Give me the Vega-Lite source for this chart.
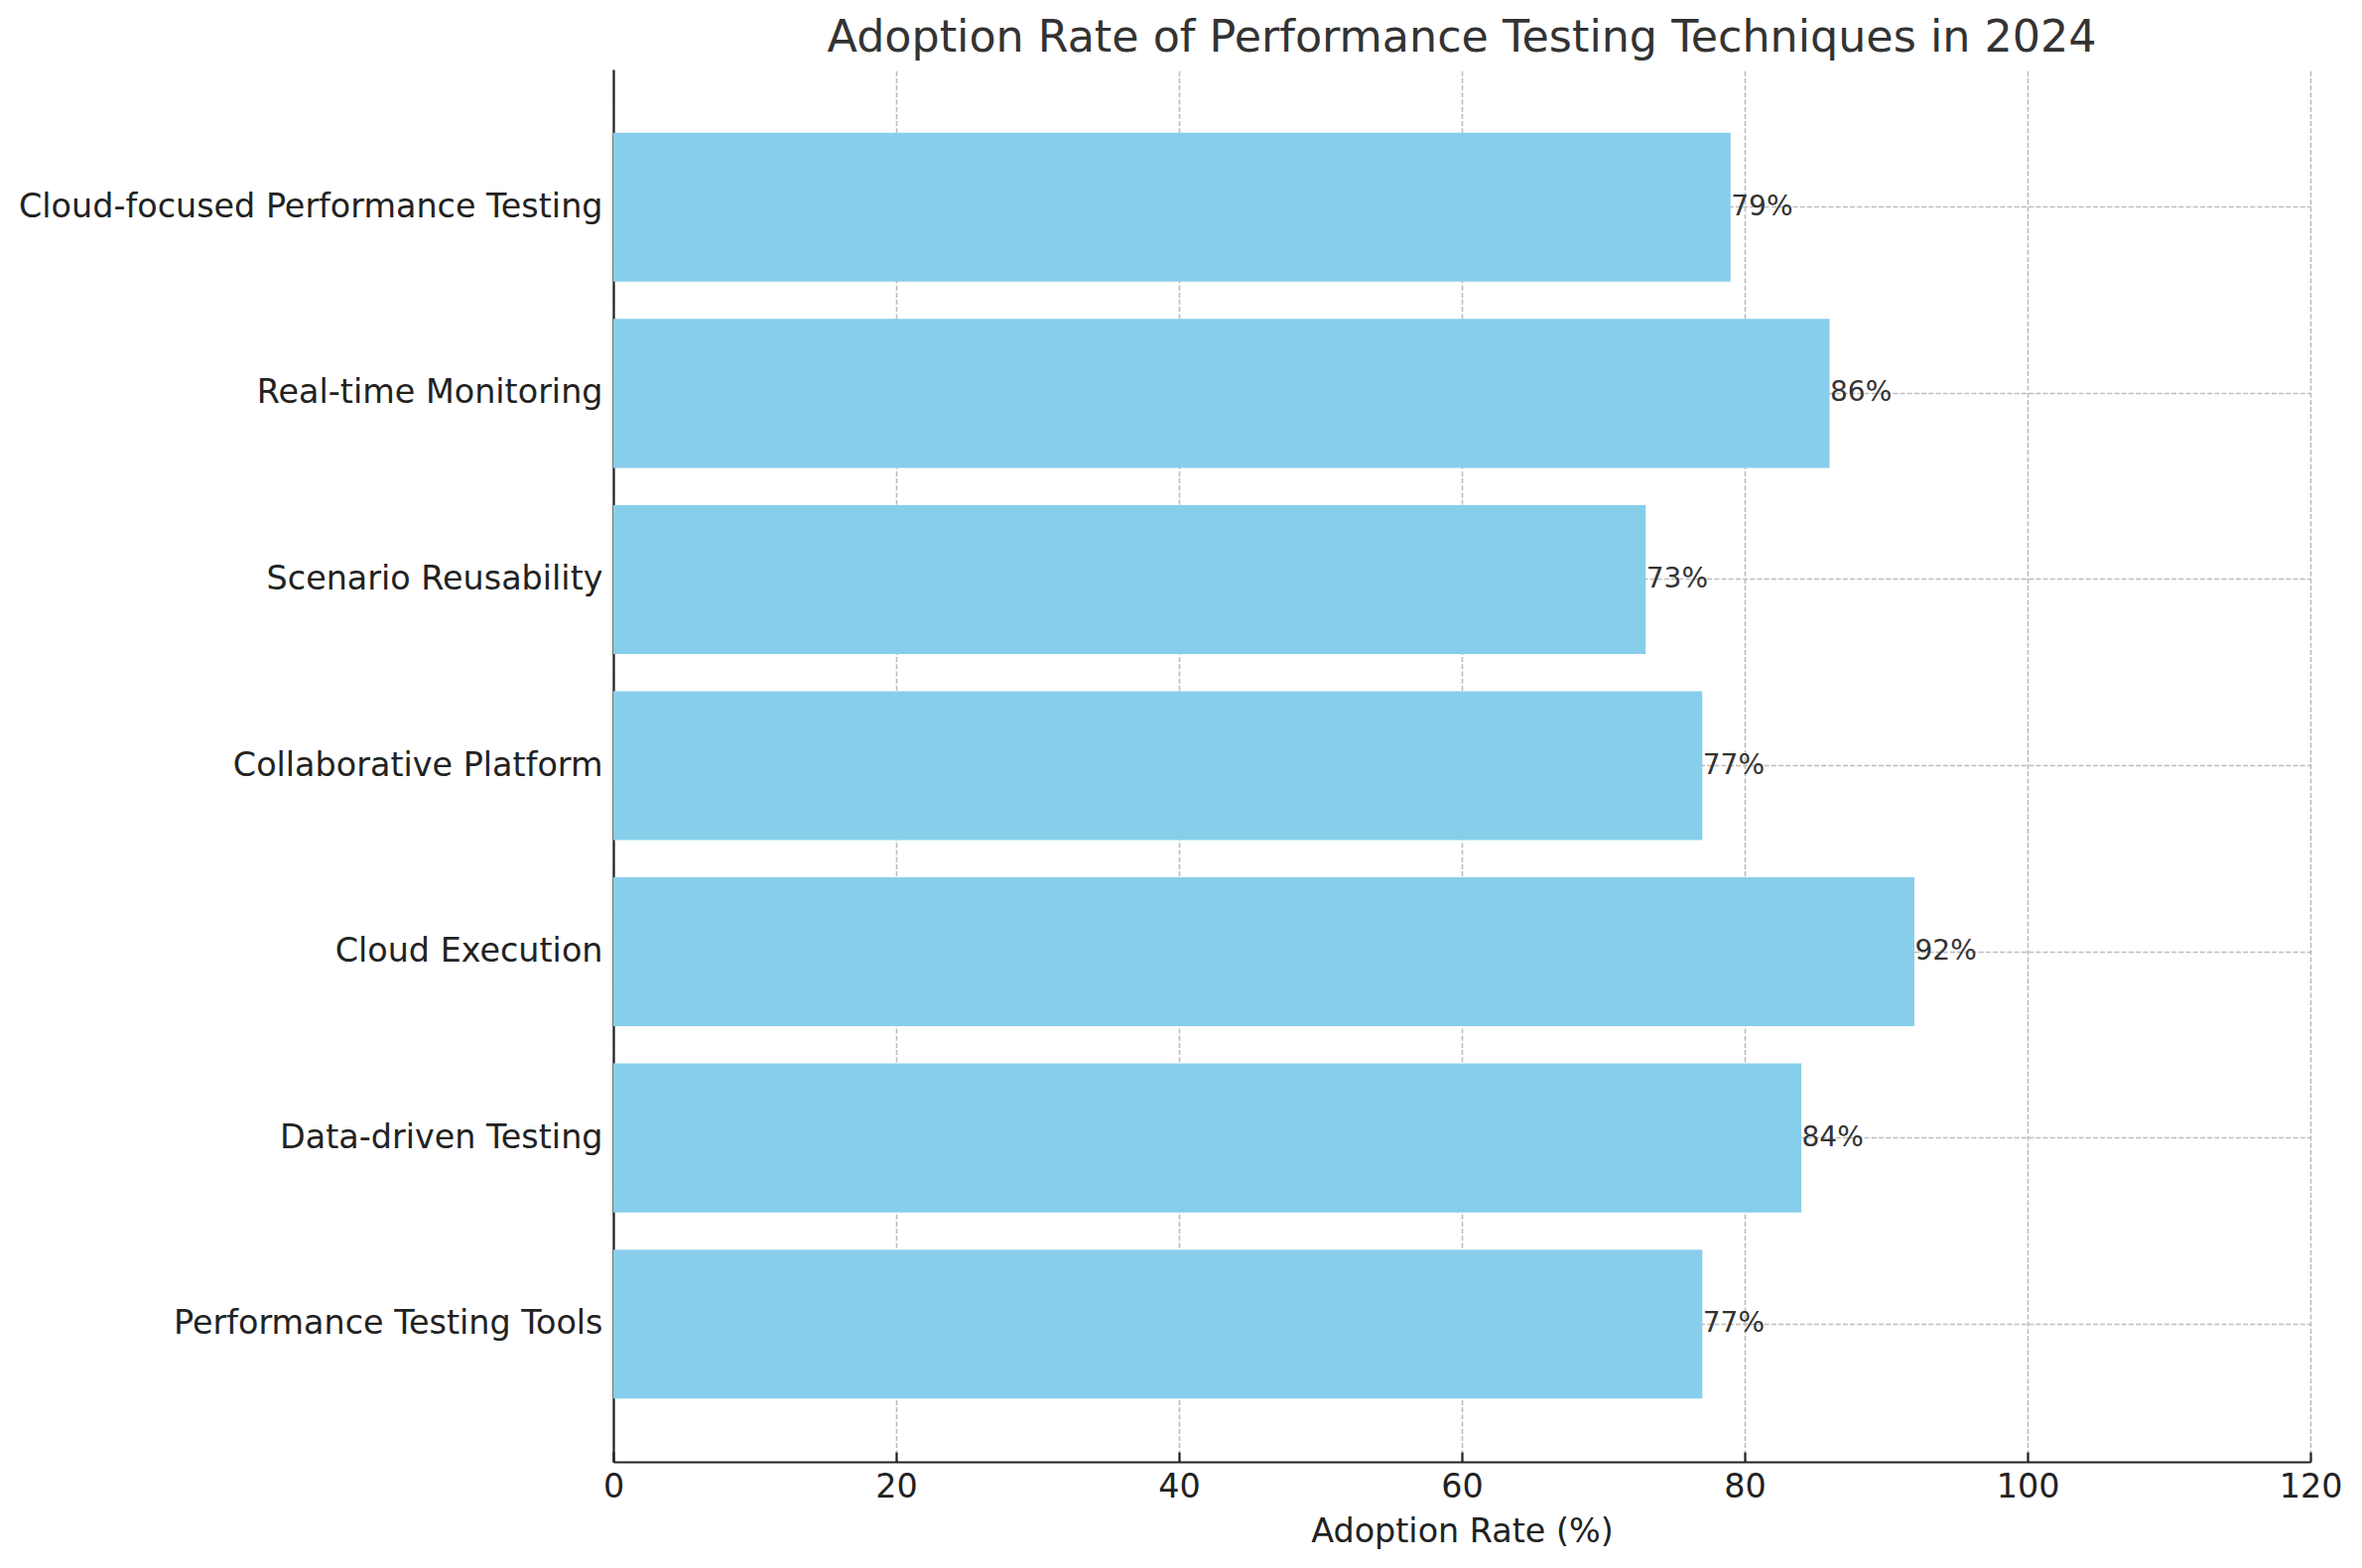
{
  "$schema": "https://vega.github.io/schema/vega-lite/v6.json",
  "width": 1710,
  "height": 1403,
  "autosize": {"type": "none"},
  "padding": {"left": 618, "top": 70, "right": 52, "bottom": 107},
  "background": "white",
  "view": {"stroke": null},
  "config": {
    "font": "DejaVu Sans",
    "axis": {
      "domainColor": "#222222",
      "domainWidth": 2.2,
      "tickColor": "#222222",
      "tickWidth": 2.2,
      "tickSize": -10,
      "labelColor": "#222222",
      "labelFont": "DejaVu Sans",
      "labelFontSize": 33.4,
      "gridColor": "#bdbdbd",
      "gridWidth": 1.6,
      "gridDash": [5, 2.2]
    }
  },
  "title": {
    "text": "Adoption Rate of Performance Testing Techniques in 2024",
    "font": "DejaVu Sans",
    "fontSize": 44.4,
    "fontWeight": "normal",
    "color": "#333333",
    "anchor": "middle",
    "frame": "group",
    "baseline": "bottom",
    "offset": 7,
    "dy": 42
  },
  "data": {
    "values": [
      {"technique": "Performance Testing Tools", "rate": 77},
      {"technique": "Data-driven Testing", "rate": 84},
      {"technique": "Cloud Execution", "rate": 92},
      {"technique": "Collaborative Platform", "rate": 77},
      {"technique": "Scenario Reusability", "rate": 73},
      {"technique": "Real-time Monitoring", "rate": 86},
      {"technique": "Cloud-focused Performance Testing", "rate": 79}
    ]
  },
  "encoding": {
    "y": {
      "field": "technique",
      "type": "nominal",
      "sort": [
        "Cloud-focused Performance Testing",
        "Real-time Monitoring",
        "Scenario Reusability",
        "Collaborative Platform",
        "Cloud Execution",
        "Data-driven Testing",
        "Performance Testing Tools"
      ],
      "scale": {"paddingInner": 0.2, "paddingOuter": 0.34},
      "axis": {"title": null, "grid": true, "labelPadding": 21, "labelLimit": 700}
    },
    "x": {
      "field": "rate",
      "type": "quantitative",
      "scale": {"domain": [0, 120], "nice": false},
      "axis": {
        "title": "Adoption Rate (%)",
        "titleFont": "DejaVu Sans",
        "titleFontSize": 33.4,
        "titleFontWeight": "normal",
        "titleColor": "#222222",
        "titleBaseline": "alphabetic",
        "titleY": 80,
        "values": [0, 20, 40, 60, 80, 100, 120],
        "grid": true,
        "labelPadding": 19,
        "labelFlush": false
      }
    }
  },
  "layer": [
    {"mark": {"type": "bar", "color": "#87CEEB"}},
    {
      "mark": {
        "type": "text",
        "align": "left",
        "baseline": "middle",
        "dx": 0.5,
        "fontSize": 28,
        "color": "#333333",
        "font": "DejaVu Sans",
        "text": {"expr": "datum.rate + '%'"}
      }
    }
  ]
}
